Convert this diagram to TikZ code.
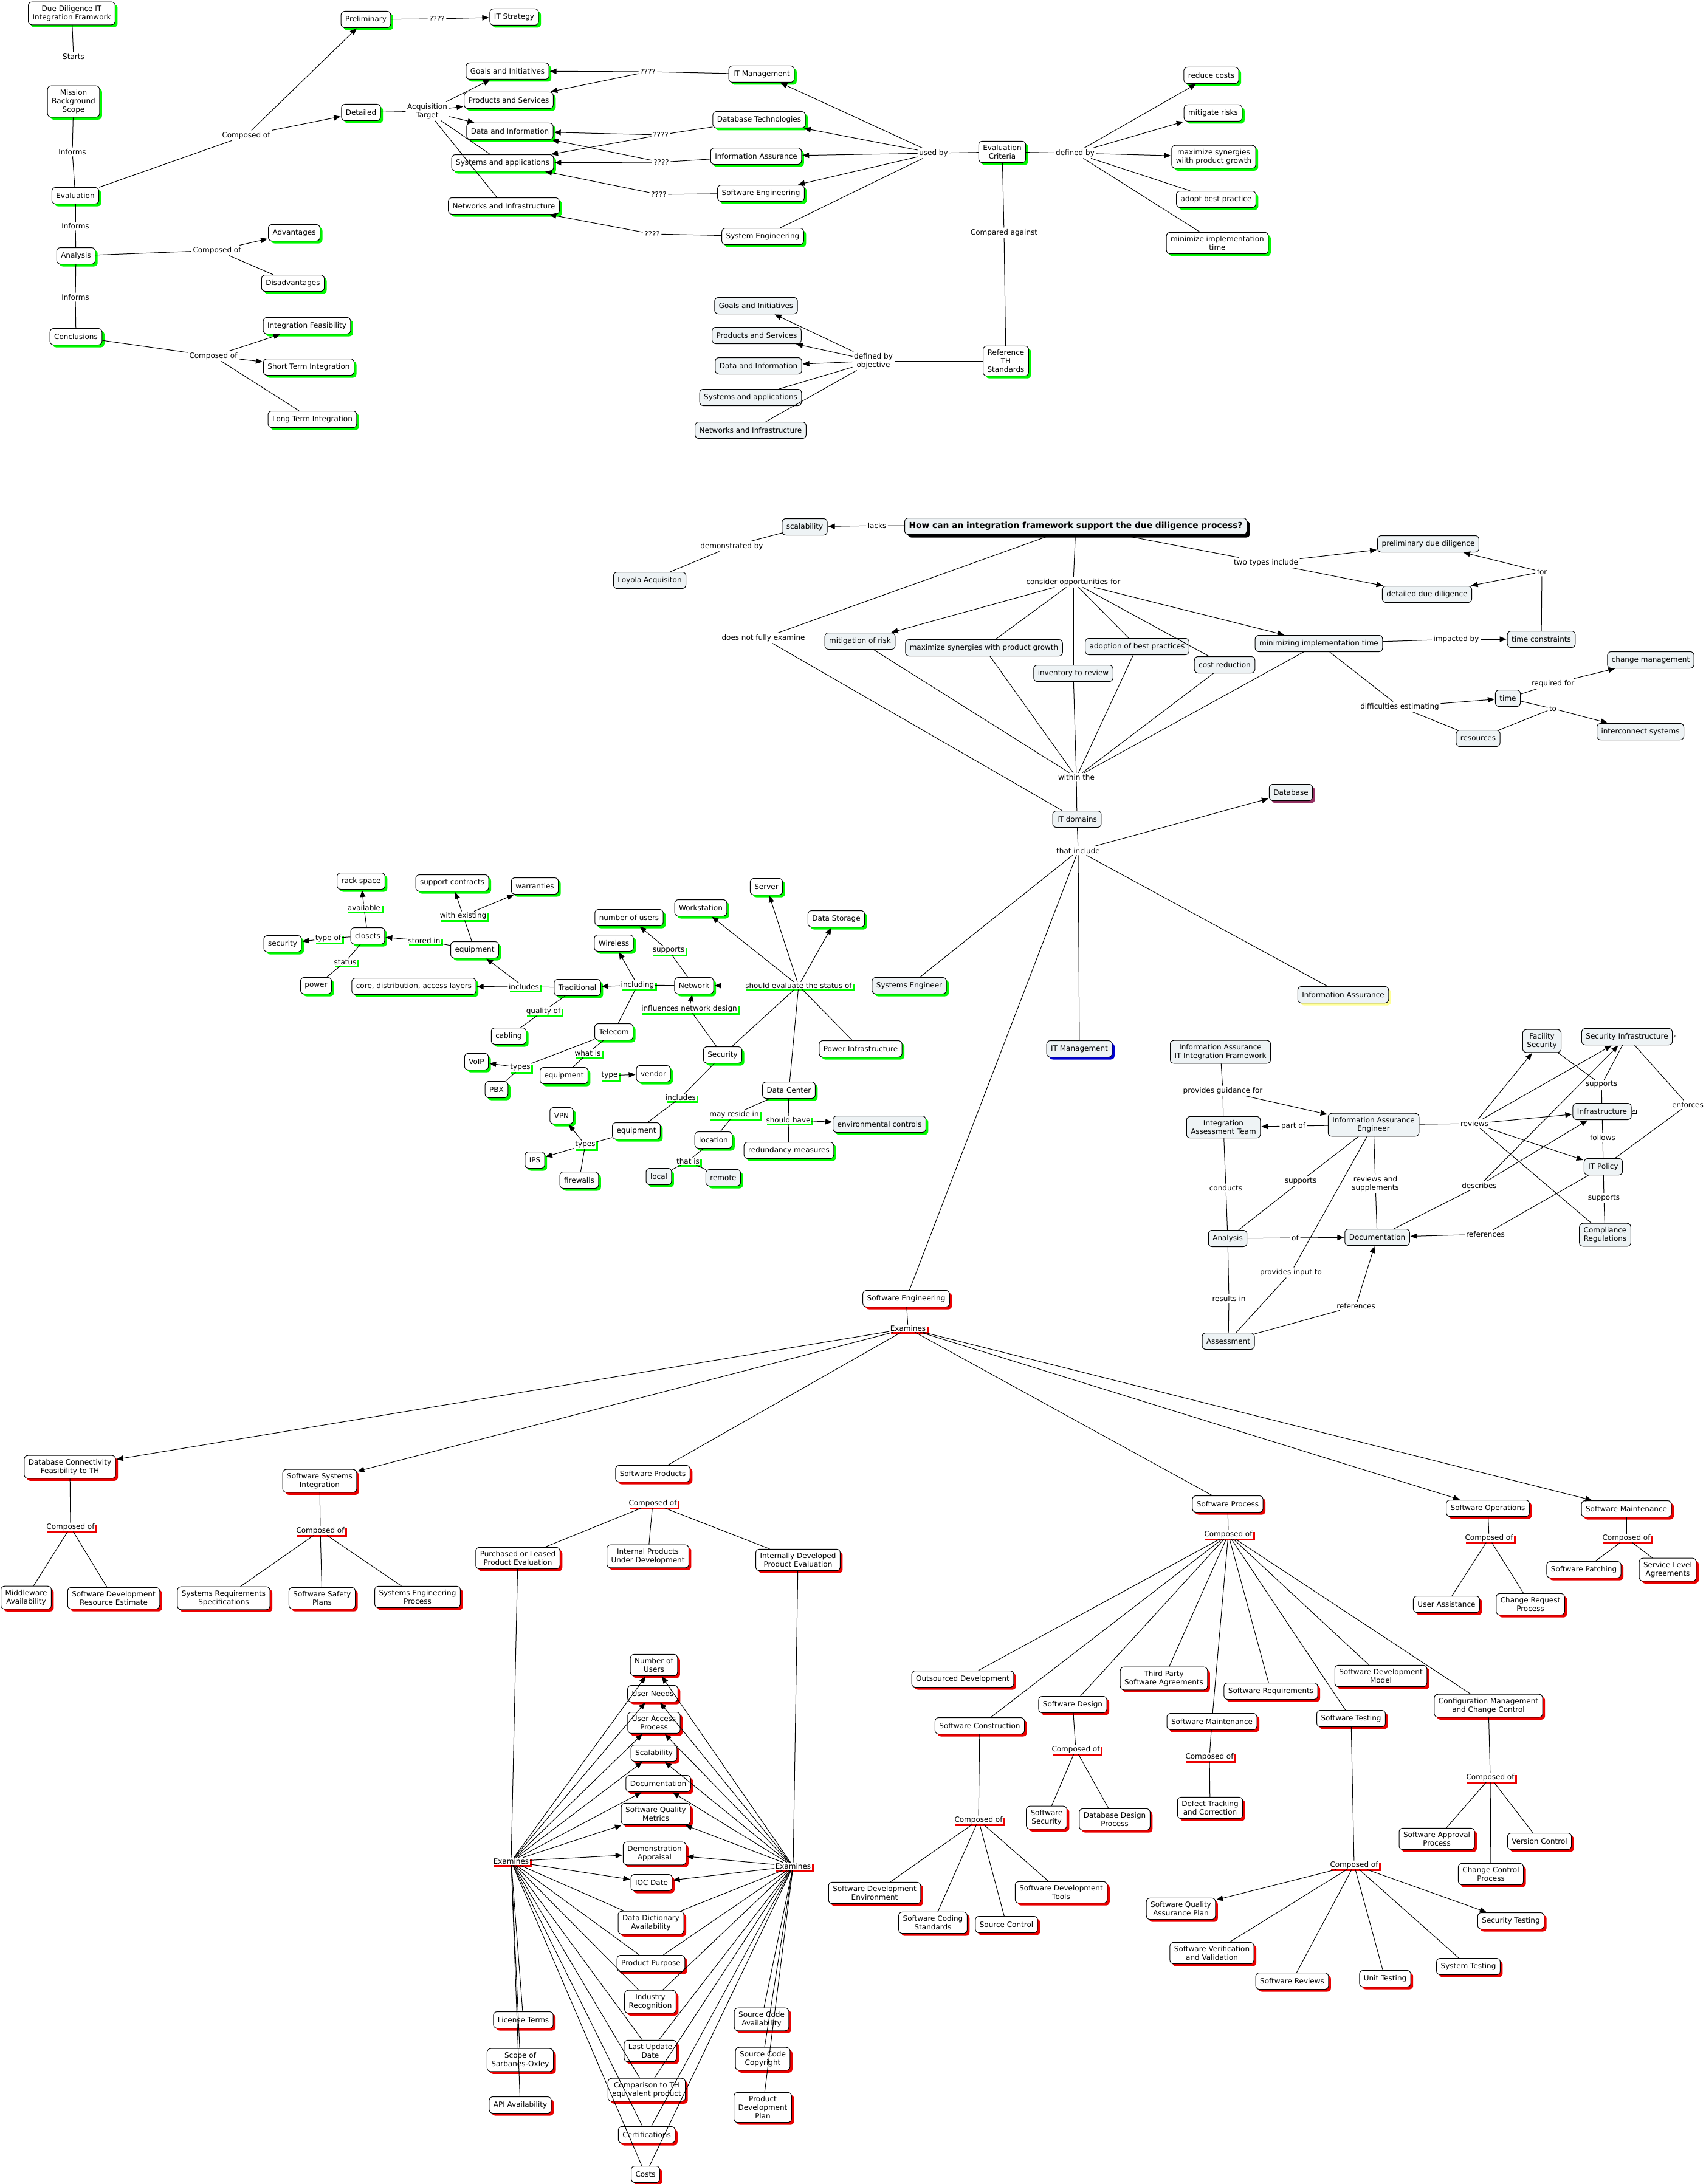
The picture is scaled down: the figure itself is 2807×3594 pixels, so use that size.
\documentclass[tikz,border=0pt]{standalone}
\usepackage{fontspec}
\setmainfont{DejaVu Sans}
\usetikzlibrary{arrows.meta,shadows}
\definecolor{shg}{RGB}{0,250,0}
\definecolor{shr}{RGB}{235,0,0}
\definecolor{shb}{RGB}{0,0,210}
\definecolor{shm}{RGB}{150,50,100}
\definecolor{shy}{RGB}{255,255,150}
\definecolor{lbg}{RGB}{238,243,245}
\newcommand{\myfs}{\fontsize{12}{14}\selectfont}
\newcommand{\conL}[2]{\draw[con] (#1) -- (#2);}
\newcommand{\conA}[2]{\draw[arr] (#1) -- (#2);}
\tikzset{
  cbox/.style={draw=black, line width=1pt, rounded corners=6pt, font=\myfs, align=center, inner xsep=7pt, inner ysep=6pt, minimum height=27pt},
  gc/.style={cbox, fill=white, drop shadow={fill=shg, opacity=1, shadow xshift=4pt, shadow yshift=-4pt}},
  gcl/.style={cbox, fill=lbg, drop shadow={fill=shg, opacity=1, shadow xshift=4pt, shadow yshift=-4pt}},
  rc/.style={cbox, fill=white, drop shadow={fill=shr, opacity=1, shadow xshift=4pt, shadow yshift=-4pt}},
  lc/.style={cbox, fill=lbg},
  lbl/.style={font=\myfs, fill=white, inner sep=2.5pt, align=center},
  lblg/.style={font=\myfs, fill=white, inner sep=1.5pt, align=center, drop shadow={fill=shg, opacity=1, shadow xshift=3pt, shadow yshift=-3pt}},
  lblr/.style={font=\myfs, fill=white, inner sep=1.5pt, align=center, drop shadow={fill=shr, opacity=1, shadow xshift=3pt, shadow yshift=-3pt}},
  con/.style={line width=1pt},
  arr/.style={line width=1pt, -{Triangle[length=11pt,width=9pt]}, shorten >=1pt},
  icon/.style={draw=black, fill=white, line width=0.6pt, inner sep=0.5pt, font=\fontsize{10}{10}\selectfont, anchor=west}
}
\begin{document}
\begin{tikzpicture}[x=1pt,y=-1pt]
\fill[white] (0,0) rectangle (2807,3594);
\useasboundingbox (0,0) rectangle (2807,3594);

%% ---------- top-left section ----------
\node[gc] (dd) at (118,22) {Due Diligence IT\\Integration Framwork};
\node[gc] (mission) at (121,167) {Mission\\Background\\Scope};
\node[gc] (eval) at (124,322) {Evaluation};
\node[gc] (analysis) at (125,421) {Analysis};
\node[gc] (concl) at (125,554) {Conclusions};
\node[gc] (prelim) at (602,32) {Preliminary};
\node[gc] (detailed) at (594,185) {Detailed};
\node[gc] (itstrat) at (846,28) {IT Strategy};
\node[gc] (adv) at (484,383) {Advantages};
\node[gc] (disadv) at (482,466) {Disadvantages};
\node[gc] (intfeas) at (505,536) {Integration Feasibility};
\node[gc] (short) at (508,604) {Short Term Integration};
\node[gc] (long) at (514,690) {Long Term Integration};
\node[gc] (goals) at (835,117) {Goals and Initiatives};
\node[gc] (prods) at (837,165) {Products and Services};
\node[gc] (data) at (839,216) {Data and Information};
\node[gc] (sys) at (827,268) {Systems and applications};
\node[gc] (net) at (829,339) {Networks and Infrastructure};
\node[gc] (itm) at (1253,122) {IT Management};
\node[gc] (dbt) at (1249,197) {Database Technologies};
\node[gc] (ia) at (1244,257) {Information Assurance};
\node[gc] (se) at (1252,318) {Software Engineering};
\node[gc] (syse) at (1255,389) {System Engineering};
\node[gc] (evc) at (1649,250) {Evaluation\\Criteria};
\node[gc] (ref) at (1655,594) {Reference\\TH\\Standards};
\node[gc] (rc1) at (1993,124) {reduce costs};
\node[gc] (mr) at (1996,186) {mitigate risks};
\node[gc] (msy) at (1997,258) {maximize synergies\\wiith product growth};
\node[gc] (abp) at (2001,328) {adopt best practice};
\node[gc] (mit) at (2003,400) {minimize implementation\\time};
\node[lc] (g2) at (1244,503) {Goals and Initiatives};
\node[lc] (p2) at (1245,552) {Products and Services};
\node[lc] (d2) at (1248,602) {Data and Information};
\node[lc] (s2) at (1235,654) {Systems and applications};
\node[lc] (n2) at (1235,708) {Networks and Infrastructure};

\node[lbl] (lStarts) at (121,93) {Starts};
\node[lbl] (lInf1) at (119,250) {Informs};
\node[lbl] (lInf2) at (124,372) {Informs};
\node[lbl] (lInf3) at (124,489) {Informs};
\node[lbl] (lComp1) at (405,223) {Composed of};
\node[lbl] (lComp2) at (357,412) {Composed of};
\node[lbl] (lComp3) at (351,586) {Composed of};
\node[lbl] (lQ0) at (719,31) {????};
\node[lbl] (lAcq) at (703,183) {Acquisition\\Target};
\node[lbl] (lQ1) at (1066,118) {????};
\node[lbl] (lQ2) at (1087,222) {????};
\node[lbl] (lQ3) at (1088,267) {????};
\node[lbl] (lQ4) at (1084,320) {????};
\node[lbl] (lQ5) at (1073,385) {????};
\node[lbl] (lUsed) at (1536,252) {used by};
\node[lbl] (lDef) at (1769,252) {defined by};
\node[lbl] (lCmp) at (1652,383) {Compared against};
\node[lbl] (lDefo) at (1437,594) {defined by\\objective};

\conL{dd}{lStarts} \conL{lStarts}{mission}
\conL{mission}{lInf1} \conL{lInf1}{eval}
\conL{eval}{lInf2} \conL{lInf2}{analysis}
\conL{analysis}{lInf3} \conL{lInf3}{concl}
\conL{eval}{lComp1} \conA{lComp1}{prelim} \conA{lComp1}{detailed}
\conL{analysis}{lComp2} \conA{lComp2}{adv} \conL{lComp2}{disadv}
\conL{concl}{lComp3} \conA{lComp3}{intfeas} \conA{lComp3}{short} \conL{lComp3}{long}
\conL{prelim}{lQ0} \conA{lQ0}{itstrat}
\conL{detailed}{lAcq} \conA{lAcq}{goals} \conA{lAcq}{prods} \conA{lAcq}{data} \conL{lAcq}{sys} \conL{lAcq}{net}
\conL{itm}{lQ1} \conA{lQ1}{goals} \conA{lQ1}{prods}
\conL{dbt}{lQ2} \conA{lQ2}{data} \conA{lQ2}{sys}
\conL{ia}{lQ3} \conA{lQ3}{data} \conA{lQ3}{sys}
\conL{se}{lQ4} \conA{lQ4}{sys}
\conL{syse}{lQ5} \conA{lQ5}{net}
\conL{evc}{lUsed} \conA{lUsed}{itm} \conA{lUsed}{dbt} \conA{lUsed}{ia} \conA{lUsed}{se} \conL{lUsed}{syse}
\conL{evc}{lDef} \conA{lDef}{rc1} \conA{lDef}{mr} \conA{lDef}{msy} \conL{lDef}{abp} \conL{lDef}{mit}
\conL{evc}{lCmp} \conL{lCmp}{ref}
\conL{ref}{lDefo} \conA{lDefo}{g2} \conA{lDefo}{p2} \conA{lDefo}{d2} \conL{lDefo}{s2} \conL{lDefo}{n2}

%% ---------- question section ----------
\node[cbox, fill=lbg, font=\fontsize{13.8}{16}\selectfont\bfseries, inner ysep=5pt, drop shadow={fill=black, opacity=1, shadow xshift=5pt, shadow yshift=-5pt}] (title) at (1770,866) {How can an integration framework support the due diligence process?};
\node[lc] (scal) at (1324,867) {scalability};
\node[lc] (loy) at (1069,955) {Loyola Acquisiton};
\node[lc] (mor) at (1415,1055) {mitigation of risk};
\node[lc] (msg) at (1619,1066) {maximize synergies with product growth};
\node[lc] (abp2) at (1871,1064) {adoption of best practices};
\node[lc] (inv) at (1766,1108) {inventory to review};
\node[lc] (cred) at (2015,1094) {cost reduction};
\node[lc] (mint) at (2170,1059) {minimizing implementation time};
\node[lc] (pdd) at (2350,895) {preliminary due diligence};
\node[lc] (ddd) at (2348,978) {detailed due diligence};
\node[lc] (tcon) at (2536,1052) {time constraints};
\node[lc] (chm) at (2716,1086) {change management};
\node[lc] (time) at (2481,1149) {time};
\node[lc] (ics) at (2699,1204) {interconnect systems};
\node[lc] (res) at (2432,1215) {resources};
\node[lc] (itd) at (1772,1348) {IT domains};
\node[cbox, fill=lbg, drop shadow={fill=shm, opacity=1, shadow xshift=4pt, shadow yshift=-4pt}] (database) at (2124,1304) {Database};
\node[cbox, fill=lbg, drop shadow={fill=shy, opacity=1, shadow xshift=4pt, shadow yshift=-4pt}] (iay) at (2210,1637) {Information Assurance};
\node[cbox, fill=lbg, drop shadow={fill=shb, opacity=1, shadow xshift=4pt, shadow yshift=-4pt}] (itm2) at (1776,1726) {IT Management};
\node[gcl] (syseng) at (1496,1622) {Systems Engineer};
\node[rc] (sweng) at (1491,2137) {Software Engineering};

\node[lbl] (lLacks) at (1443,865) {lacks};
\node[lbl] (lDemo) at (1204,899) {demonstrated by};
\node[lbl] (lCons) at (1766,958) {consider opportunities for};
\node[lbl] (lDnfe) at (1256,1050) {does not fully examine};
\node[lbl] (lTwo) at (2083,926) {two types include};
\node[lbl] (lFor) at (2537,941) {for};
\node[lbl] (lImp) at (2396,1052) {impacted by};
\node[lbl] (lReq) at (2555,1125) {required for};
\node[lbl] (lTo) at (2555,1166) {to};
\node[lbl] (lDiff) at (2303,1163) {difficulties estimating};
\node[lbl] (lWithin) at (1771,1279) {within the};
\node[lbl] (lThat) at (1774,1400) {that include};

\conL{title}{lLacks} \conA{lLacks}{scal}
\conL{scal}{lDemo} \conL{lDemo}{loy}
\conL{title}{lCons} \conA{lCons}{mor} \conA{lCons}{mint}
\conL{lCons}{msg} \conL{lCons}{inv} \conL{lCons}{abp2} \conL{lCons}{cred}
\conL{title}{lDnfe} \conL{lDnfe}{itd}
\conL{title}{lTwo} \conA{lTwo}{pdd} \conA{lTwo}{ddd}
\conL{mint}{lImp} \conA{lImp}{tcon}
\conL{tcon}{lFor} \conA{lFor}{pdd} \conA{lFor}{ddd}
\conL{mint}{lDiff} \conA{lDiff}{time} \conL{lDiff}{res}
\conL{time}{lReq} \conA{lReq}{chm}
\conL{time}{lTo} \conL{res}{lTo} \conA{lTo}{ics}
\foreach \t in {mor,msg,inv,abp2,cred,mint} {\conL{\t}{lWithin}}
\conL{lWithin}{itd}
\conL{itd}{lThat} \conA{lThat}{database}
\conL{lThat}{syseng} \conL{lThat}{itm2} \conL{lThat}{sweng} \conL{lThat}{iay}

%% ---------- network cluster ----------
\node[gc] (server) at (1261,1459) {Server};
\node[gc] (workst) at (1153,1494) {Workstation};
\node[gc] (dstor) at (1376,1512) {Data Storage};
\node[gc] (network) at (1142,1622) {Network};
\node[gc] (rack) at (594,1450) {rack space};
\node[gc] (supc) at (744,1453) {support contracts};
\node[gc] (warr) at (880,1458) {warranties};
\node[gc] (closets) at (605,1540) {closets};
\node[gc] (secu) at (465,1553) {security};
\node[gc] (equipA) at (781,1563) {equipment};
\node[gc] (power) at (520,1622) {power};
\node[gc] (core) at (681,1623) {core, distribution, access layers};
\node[gc] (trad) at (950,1625) {Traditional};
\node[gc] (wless) at (1010,1552) {Wireless};
\node[gc] (nusers) at (1035,1510) {number of users};
\node[gc] (cabling) at (837,1705) {cabling};
\node[gc] (telecom) at (1010,1698) {Telecom};
\node[gc] (voip) at (784,1747) {VoIP};
\node[gc] (equipB) at (928,1770) {equipment};
\node[gc] (vendor) at (1075,1767) {vendor};
\node[gc] (pbx) at (817,1793) {PBX};
\node[gc] (security) at (1189,1736) {Security};
\node[gc] (powinf) at (1416,1726) {Power Infrastructure};
\node[gc] (dcenter) at (1298,1794) {Data Center};
\node[gcl] (envc) at (1447,1850) {environmental controls};
\node[gc] (equipC) at (1047,1861) {equipment};
\node[gc] (location) at (1174,1876) {location};
\node[gc] (redund) at (1298,1893) {redundancy measures};
\node[gc] (vpn) at (924,1836) {VPN};
\node[gc] (ips) at (880,1909) {IPS};
\node[gc] (firew) at (953,1942) {firewalls};
\node[gcl] (local) at (1084,1936) {local};
\node[gcl] (remote) at (1190,1938) {remote};

\node[lblg] (lShould) at (1314,1622) {should evaluate the status of};
\node[lblg] (lAvail) at (599,1494) {available};
\node[lblg] (lWithEx) at (762,1507) {with existing};
\node[lblg] (lTypeOf) at (540,1544) {type of};
\node[lblg] (lStored) at (698,1548) {stored in};
\node[lblg] (lStatus) at (568,1583) {status};
\node[lblg] (lIncl) at (862,1624) {includes};
\node[lblg] (lIncluding) at (1049,1621) {including};
\node[lblg] (lSupp) at (1100,1564) {supports};
\node[lblg] (lInfl) at (1134,1660) {influences network design};
\node[lblg] (lQual) at (894,1664) {quality of};
\node[lblg] (lWhat) at (967,1733) {what is};
\node[lblg] (lTypesA) at (856,1757) {types};
\node[lblg] (lType) at (1003,1770) {type};
\node[lblg] (lInclB) at (1120,1806) {includes};
\node[lblg] (lMay) at (1208,1834) {may reside in};
\node[lblg] (lShHave) at (1297,1843) {should have};
\node[lblg] (lTypesB) at (963,1884) {types};
\node[lblg] (lThatIs) at (1132,1911) {that is};

\conL{syseng}{lShould}
\conA{lShould}{network} \conA{lShould}{workst} \conA{lShould}{server} \conA{lShould}{dstor}
\conL{lShould}{security} \conL{lShould}{dcenter} \conL{lShould}{powinf}
\conL{network}{lIncluding} \conA{lIncluding}{wless} \conA{lIncluding}{trad} \conL{lIncluding}{telecom}
\conL{network}{lSupp} \conA{lSupp}{nusers}
\conL{security}{lInfl} \conA{lInfl}{network}
\conL{trad}{lIncl} \conA{lIncl}{core} \conA{lIncl}{equipA}
\conL{trad}{lQual} \conL{lQual}{cabling}
\conL{equipA}{lStored} \conA{lStored}{closets}
\conL{equipA}{lWithEx} \conA{lWithEx}{supc} \conA{lWithEx}{warr}
\conL{closets}{lAvail} \conA{lAvail}{rack}
\conL{closets}{lTypeOf} \conA{lTypeOf}{secu}
\conL{closets}{lStatus} \conL{lStatus}{power}
\conL{telecom}{lTypesA} \conA{lTypesA}{voip} \conL{lTypesA}{pbx}
\conL{telecom}{lWhat} \conL{lWhat}{equipB}
\conL{equipB}{lType} \conA{lType}{vendor}
\conL{security}{lInclB} \conL{lInclB}{equipC}
\conL{equipC}{lTypesB} \conA{lTypesB}{vpn} \conA{lTypesB}{ips} \conL{lTypesB}{firew}
\conL{dcenter}{lMay} \conL{lMay}{location}
\conL{dcenter}{lShHave} \conA{lShHave}{envc} \conL{lShHave}{redund}
\conL{location}{lThatIs} \conL{lThatIs}{local} \conL{lThatIs}{remote}

%% ---------- information assurance cluster ----------
\node[lc] (iaf) at (2008,1731) {Information Assurance\\IT Integration Framework};
\node[lc] (iat) at (2013,1855) {Integration\\Assessment Team};
\node[lc] (iae) at (2260,1851) {Information Assurance\\Engineer};
\node[lc] (facs) at (2537,1713) {Facility\\Security};
\node[lc] (secinf) at (2677,1706) {Security Infrastructure};
\node[lc] (infra) at (2636,1829) {Infrastructure};
\node[lc] (itpol) at (2638,1920) {IT Policy};
\node[lc] (compl) at (2641,2032) {Compliance\\Regulations};
\node[lc] (anal2) at (2020,2038) {Analysis};
\node[lc] (docu) at (2266,2036) {Documentation};
\node[lc] (assess) at (2021,2207) {Assessment};
\node[icon] (icA) at (secinf.east) {»};
\node[icon] (icB) at (infra.east) {»};

\node[lbl] (lProv) at (2012,1795) {provides guidance for};
\node[lbl] (lPart) at (2128,1853) {part of};
\node[lbl] (lRev) at (2426,1849) {reviews};
\node[lbl] (lSupT) at (2635,1785) {supports};
\node[lbl] (lEnf) at (2777,1818) {enforces};
\node[lbl] (lFol) at (2637,1872) {follows};
\node[lbl] (lDesc) at (2434,1951) {describes};
\node[lbl] (lSupIA) at (2140,1944) {supports};
\node[lbl] (lCond) at (2017,1955) {conducts};
\node[lbl] (lRevS) at (2263,1948) {reviews and\\supplements};
\node[lbl] (lSupP) at (2639,1972) {supports};
\node[lbl] (lOf) at (2131,2037) {of};
\node[lbl] (lRefs) at (2444,2031) {references};
\node[lbl] (lInput) at (2124,2094) {provides input to};
\node[lbl] (lRes) at (2022,2137) {results in};
\node[lbl] (lRefsB) at (2231,2149) {references};

\conL{iaf}{lProv} \conA{lProv}{iae} \conL{lProv}{iat}
\conL{iae}{lPart} \conA{lPart}{iat}
\conL{iat}{lCond} \conL{lCond}{anal2}
\conL{iae}{lSupIA} \conL{lSupIA}{anal2}
\conL{iae}{lRevS} \conL{lRevS}{docu}
\conL{iae}{lInput} \conL{lInput}{assess}
\conL{anal2}{lOf} \conA{lOf}{docu}
\conL{anal2}{lRes} \conL{lRes}{assess}
\conL{assess}{lRefsB} \conA{lRefsB}{docu}
\conL{iae}{lRev} \conA{lRev}{facs} \conA{lRev}{secinf} \conA{lRev}{infra} \conA{lRev}{itpol} \conL{lRev}{compl}
\conL{facs}{lSupT} \conL{secinf}{lSupT} \conL{lSupT}{infra}
\conL{infra}{lFol} \conL{lFol}{itpol}
\conL{secinf}{lEnf} \conL{lEnf}{itpol}
\conL{itpol}{lSupP} \conL{lSupP}{compl}
\conL{itpol}{lRefs} \conA{lRefs}{docu}
\conL{docu}{lDesc} \conA{lDesc}{secinf} \conA{lDesc}{infra}

%% ---------- software engineering ----------
\node[lblr] (lExT) at (1494,2186) {Examines};
\node[rc] (dbc) at (115,2414) {Database Connectivity\\Feasibility to TH};
\node[rc] (mware) at (43,2629) {Middleware\\Availability};
\node[rc] (sdre) at (187,2630) {Software Development\\Resource Estimate};
\node[rc] (ssi) at (526,2437) {Software Systems\\Integration};
\node[rc] (srs) at (368,2630) {Systems Requirements\\Specifications};
\node[rc] (ssp) at (530,2630) {Software Safety\\Plans};
\node[rc] (sep) at (687,2628) {Systems Engineering\\Process};
\node[rc] (sprod) at (1074,2425) {Software Products};
\node[rc] (pl) at (852,2564) {Purchased or Leased\\Product Evaluation};
\node[rc] (ipud) at (1066,2561) {Internal Products\\Under Development};
\node[rc] (idpe) at (1313,2567) {Internally Developed\\Product Evaluation};
\node[rc] (sproc) at (2020,2475) {Software Process};
\node[rc] (sops) at (2448,2482) {Software Operations};
\node[rc] (smaint) at (2676,2483) {Software Maintenance};
\node[rc] (spatch) at (2606,2583) {Software Patching};
\node[rc] (sla) at (2744,2583) {Service Level\\Agreements};
\node[rc] (uass) at (2380,2640) {User Assistance};
\node[rc] (crp) at (2518,2640) {Change Request\\Process};
\node[rc] (outs) at (1584,2763) {Outsourced Development};
\node[rc] (tpsa) at (1915,2762) {Third Party\\Software Agreements};
\node[rc] (sreq) at (2091,2783) {Software Requirements};
\node[rc] (sdm) at (2272,2758) {Software Development\\Model};
\node[rc] (cmcc) at (2449,2807) {Configuration Management\\and Change Control};
\node[rc] (sdes) at (1765,2805) {Software Design};
\node[rc] (scons) at (1612,2840) {Software Construction};
\node[rc] (smaintB) at (1994,2833) {Software Maintenance};
\node[rc] (stest) at (2223,2828) {Software Testing};
\node[rc] (ssec) at (1722,2991) {Software\\Security};
\node[rc] (ddp) at (1834,2994) {Database Design\\Process};
\node[rc] (dtc) at (1991,2975) {Defect Tracking\\and Correction};
\node[rc] (sap) at (2364,3026) {Software Approval\\Process};
\node[rc] (vc) at (2533,3030) {Version Control};
\node[rc] (ccp) at (2453,3084) {Change Control\\Process};
\node[rc] (sde) at (1439,3115) {Software Development\\Environment};
\node[rc] (scs) at (1535,3164) {Software Coding\\Standards};
\node[rc] (srcc) at (1656,3167) {Source Control};
\node[rc] (sdt) at (1746,3114) {Software Development\\Tools};
\node[rc] (sqap) at (1943,3141) {Software Quality\\Assurance Plan};
\node[rc] (stt) at (2486,3161) {Security Testing};
\node[rc] (svv) at (1994,3214) {Software Verification\\and Validation};
\node[rc] (srev) at (2126,3260) {Software Reviews};
\node[rc] (ut) at (2279,3256) {Unit Testing};
\node[rc] (syst) at (2416,3236) {System Testing};

\node[lblr] (lCo1) at (116,2513) {Composed of};
\node[lblr] (lCo2) at (527,2519) {Composed of};
\node[lblr] (lCo3) at (1074,2474) {Composed of};
\node[lblr] (lCo4) at (2021,2525) {Composed of};
\node[lblr] (lCo5) at (2450,2531) {Composed of};
\node[lblr] (lCo6) at (2676,2531) {Composed of};
\node[lblr] (lCo7) at (1770,2879) {Composed of};
\node[lblr] (lCo8) at (1990,2891) {Composed of};
\node[lblr] (lCo9) at (2452,2925) {Composed of};
\node[lblr] (lCo10) at (1610,2995) {Composed of};
\node[lblr] (lCo11) at (2228,3069) {Composed of};

\conL{sweng}{lExT}
\conA{lExT}{dbc} \conA{lExT}{ssi} \conL{lExT}{sprod} \conL{lExT}{sproc} \conA{lExT}{sops} \conA{lExT}{smaint}
\conL{dbc}{lCo1} \conL{lCo1}{mware} \conL{lCo1}{sdre}
\conL{ssi}{lCo2} \conL{lCo2}{srs} \conL{lCo2}{ssp} \conL{lCo2}{sep}
\conL{sprod}{lCo3} \conL{lCo3}{pl} \conL{lCo3}{ipud} \conL{lCo3}{idpe}
\conL{sproc}{lCo4}
\foreach \t in {outs,scons,sdes,tpsa,smaintB,sreq,stest,sdm,cmcc} {\conL{lCo4}{\t}}
\conL{sops}{lCo5} \conL{lCo5}{uass} \conL{lCo5}{crp}
\conL{smaint}{lCo6} \conL{lCo6}{spatch} \conL{lCo6}{sla}
\conL{sdes}{lCo7} \conL{lCo7}{ssec} \conL{lCo7}{ddp}
\conL{smaintB}{lCo8} \conL{lCo8}{dtc}
\conL{cmcc}{lCo9} \conL{lCo9}{sap} \conL{lCo9}{vc} \conL{lCo9}{ccp}
\conL{scons}{lCo10} \conL{lCo10}{sde} \conL{lCo10}{scs} \conL{lCo10}{srcc} \conL{lCo10}{sdt}
\conL{stest}{lCo11} \conA{lCo11}{sqap} \conA{lCo11}{stt}
\conL{lCo11}{svv} \conL{lCo11}{srev} \conL{lCo11}{ut} \conL{lCo11}{syst}

%% ---------- examines cluster ----------
\node[rc] (nou) at (1076,2740) {Number of\\Users};
\node[rc] (un) at (1074,2787) {User Needs};
\node[rc] (uap) at (1076,2835) {User Access\\Process};
\node[rc] (scl) at (1076,2885) {Scalability};
\node[rc] (docB) at (1083,2935) {Documentation};
\node[rc] (sqm) at (1079,2985) {Software Quality\\Metrics};
\node[rc] (dapp) at (1077,3050) {Demonstration\\Appraisal};
\node[rc] (ioc) at (1072,3098) {IOC Date};
\node[rc] (dda) at (1071,3164) {Data Dictionary\\Availability};
\node[rc] (ppur) at (1071,3231) {Product Purpose};
\node[rc] (ind) at (1070,3294) {Industry\\Recognition};
\node[rc] (lud) at (1070,3375) {Last Update\\Date};
\node[rc] (cmp) at (1064,3439) {Comparison to TH\\equivalent product};
\node[rc] (cert) at (1064,3513) {Certifications};
\node[rc] (costs) at (1062,3578) {Costs};
\node[rc] (lic) at (861,3324) {License Terms};
\node[rc] (sox) at (856,3390) {Scope of\\Sarbanes-Oxley};
\node[rc] (api) at (856,3464) {API Availability};
\node[rc] (sca) at (1253,3323) {Source Code\\Availability};
\node[rc] (scc) at (1255,3388) {Source Code\\Copyright};
\node[rc] (pdp) at (1255,3468) {Product\\Development\\Plan};
\node[lblr] (lExL) at (841,3063) {Examines};
\node[lblr] (lExR) at (1305,3071) {Examines};

\conL{pl}{lExL} \conL{idpe}{lExR}
\foreach \t in {nou,un,uap,scl,docB,sqm,dapp,ioc} {\conA{lExL}{\t} \conA{lExR}{\t}}
\foreach \t in {dda,ppur,ind,lud,cmp,cert,costs} {\conL{lExL}{\t} \conL{lExR}{\t}}
\foreach \t in {lic,sox,api} {\conL{lExL}{\t}}
\foreach \t in {sca,scc,pdp} {\conL{lExR}{\t}}
\end{tikzpicture}
\end{document}
